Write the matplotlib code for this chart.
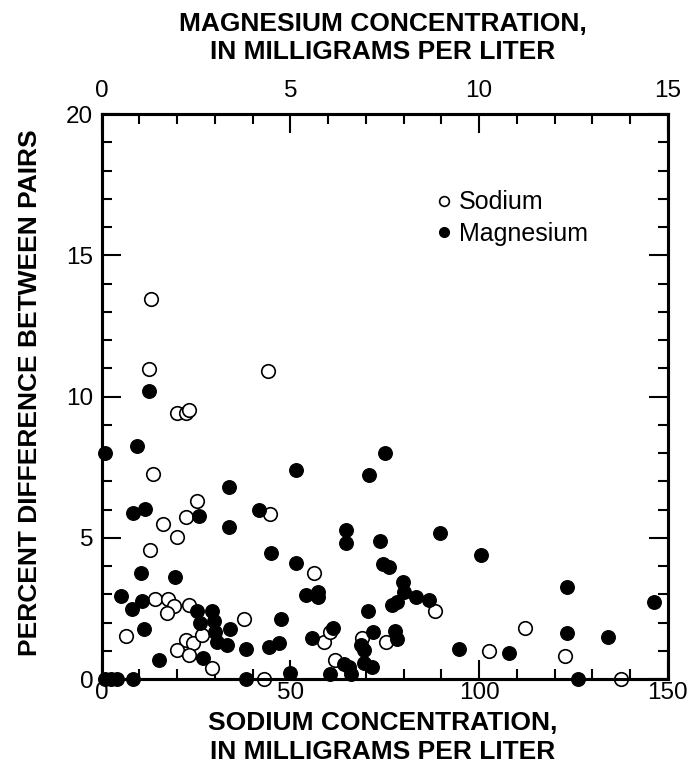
import matplotlib.pyplot as plt
from matplotlib.lines import Line2D

# sodium concentration (mg/L) and percent difference between pairs
sodium_conc = [13.1, 12.6, 19.9, 22.3, 23.1, 44.0, 13.6, 25.3, 16.2, 22.4,
               44.5, 19.9, 12.9, 56.3, 14.1, 17.6, 19.2, 17.2, 23.0, 37.8,
               6.4, 22.2, 24.3, 26.5, 19.9, 23.0, 29.2, 42.9, 58.9, 60.4,
               61.9, 69.0, 75.2, 88.3, 112.2, 102.7, 122.8, 137.5]
sodium_diff = [13.45, 10.96, 9.40, 9.43, 9.51, 10.89, 7.27, 6.30, 5.49, 5.73,
               5.85, 5.01, 4.57, 3.74, 2.82, 2.82, 2.59, 2.32, 2.62, 2.11,
               1.53, 1.38, 1.26, 1.56, 1.03, 0.85, 0.38, 0.0, 1.32, 1.67,
               0.67, 1.47, 1.32, 2.41, 1.79, 0.99, 0.82, 0.0]

# magnesium concentration (mg/L) and percent difference between pairs
magnesium_conc = [1.25, 0.08, 0.94, 5.15, 7.07, 7.50, 3.37, 0.82, 1.15, 2.58,
                  4.17, 3.37, 6.48, 6.46, 7.37, 8.96, 10.06, 4.48, 5.15, 7.44,
                  7.61, 1.04, 1.93, 5.40, 5.74, 5.74, 7.97, 8.01, 8.32, 8.68,
                  7.70, 7.81, 7.05, 0.52, 0.80, 1.08, 2.52, 2.92, 2.61, 2.97,
                  3.01, 3.41, 3.05, 3.32, 3.83, 2.69, 1.11, 1.53, 4.44, 4.69,
                  4.74, 5.57, 6.12, 7.18, 7.78, 7.82, 6.86, 6.95, 6.95, 7.17,
                  6.42, 6.55, 6.61, 6.04, 5.00, 9.47, 12.32, 14.63, 12.32, 13.42,
                  10.79, 12.63, 3.83, 0.08, 0.25, 0.40, 0.83]
magnesium_diff = [10.20, 8.01, 8.26, 7.40, 7.22, 8.01, 6.81, 5.86, 6.02, 5.77,
                  5.98, 5.37, 5.29, 4.80, 4.90, 5.16, 4.39, 4.45, 4.09, 4.06,
                  3.97, 3.74, 3.60, 2.97, 3.09, 2.89, 3.44, 3.09, 2.89, 2.80,
                  2.62, 2.74, 2.42, 2.95, 2.48, 2.76, 2.40, 2.42, 1.97, 2.06,
                  1.67, 1.76, 1.32, 1.22, 1.07, 0.76, 1.76, 0.67, 1.14, 1.28,
                  2.12, 1.44, 1.82, 1.67, 1.70, 1.40, 1.20, 1.03, 0.55, 0.44,
                  0.53, 0.44, 0.17, 0.17, 0.22, 1.06, 3.24, 2.74, 1.62, 1.50,
                  0.93, 0.0, 0.0, 0.0, 0.0, 0.0, 0.0]

plt.rcParams['font.family'] = ['Liberation Sans', 'DejaVu Sans']

fig = plt.figure(figsize=(6.9, 7.74), dpi=100)
ax = fig.add_axes([0.1474, 0.1227, 0.8206, 0.73])

ax.scatter(sodium_conc, sodium_diff, s=95, facecolors='white',
           edgecolors='black', linewidths=1.2, clip_on=False, zorder=3)
ax.set_xlim(0, 150)
ax.set_ylim(0, 20)
ax.set_xticks([0, 50, 100, 150])
ax.set_xticks(range(0, 151, 10), minor=True)
ax.set_yticks([0, 5, 10, 15, 20])
ax.set_yticks(range(0, 21), minor=True)
ax.tick_params(which='both', direction='in', width=1.5, labelsize=17.5,
               right=True, top=False)
ax.tick_params(which='major', length=14)
ax.tick_params(which='minor', length=7)
ax.tick_params(axis='x', pad=2)
ax.tick_params(axis='y', pad=6)

top = ax.twiny()
top.scatter(magnesium_conc, magnesium_diff, s=95, color='black',
            clip_on=False, zorder=3)
top.set_xlim(0, 15)
top.set_xticks([0, 5, 10, 15])
top.set_xticks(range(0, 16), minor=True)
top.tick_params(which='both', direction='in', width=1.5, labelsize=17.5, pad=9)
top.tick_params(which='major', length=14)
top.tick_params(which='minor', length=7)

for a in (ax, top):
    for sp in a.spines.values():
        sp.set_linewidth(2.2)

fig.text(0.555, 0.047, 'SODIUM CONCENTRATION,\nIN MILLIGRAMS PER LITER',
         ha='center', va='center', fontsize=19, fontweight='bold',
         linespacing=1.25)
fig.text(0.555, 0.951, 'MAGNESIUM CONCENTRATION,\nIN MILLIGRAMS PER LITER',
         ha='center', va='center', fontsize=19, fontweight='bold',
         linespacing=1.25)
fig.text(0.043, 0.493, 'PERCENT DIFFERENCE BETWEEN PAIRS', rotation=90,
         ha='center', va='center', fontsize=19, fontweight='bold')

handles = [
    Line2D([], [], ls='none', marker='o', ms=7, mfc='white', mec='black', mew=1.2),
    Line2D([], [], ls='none', marker='o', ms=7, mfc='black', mec='black'),
]
top.legend(handles, ['Sodium', 'Magnesium'], loc='upper left',
           bbox_to_anchor=(0.56, 0.887), frameon=False, fontsize=18,
           handletextpad=0.1, handlelength=1.0, labelspacing=0.3,
           borderpad=0)

fig.savefig('out.png', dpi=100)
